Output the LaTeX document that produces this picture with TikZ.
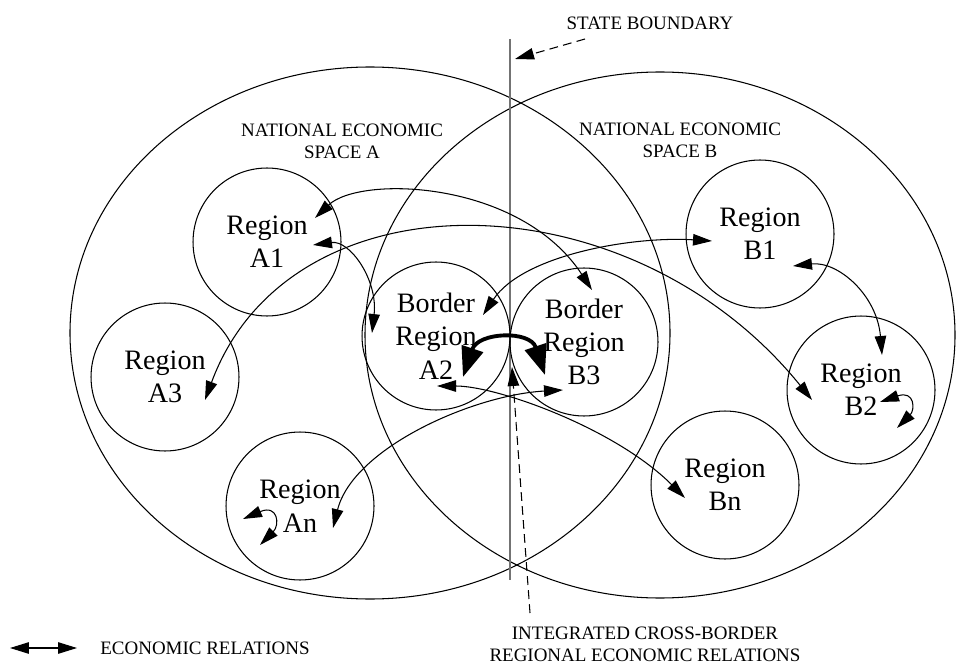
\documentclass[tikz,border=0pt]{standalone}
\usepackage{fontspec}
\setmainfont{Liberation Serif}
\usetikzlibrary{calc}
\usetikzlibrary{arrows.meta}
\tikzset{every node/.style={align=center},
  region/.style={ % one region of an economic space
    circle, draw, line width=0.6pt, inner sep=0pt,
    minimum size=2.96cm,
    font=\fontsize{16}{19}\selectfont},
  caption/.style={inner sep=0pt, font=\fontsize{10.8}{12.4}\selectfont},
  space/.style={draw, line width=0.6pt},
  relation/.style={ % economic relation between two regions
    line width=0.6pt,
    {Triangle[length=3.8mm,width=2.3mm]}-{Triangle[length=3.8mm,width=2.3mm]}},
  strong/.style={line width=2.2pt,
    {Triangle[length=6mm,width=4.4mm]}-{Triangle[length=6mm,width=4.4mm]}},
  pointer/.style={dashed, line width=0.6pt, dash pattern=on 5pt off 3pt,
    -{Triangle[length=3.8mm,width=2.3mm]}}}

\begin{document}
\begin{tikzpicture}[x=0.02cm, y=-0.02cm]
  \useasboundingbox (0,0) rectangle (959,665);

  % national economic spaces
  \draw[space] (370,333) ellipse [x radius=300, y radius=266];
  \draw[space] (660,335) ellipse [x radius=295, y radius=263];
  \node[caption] (spa) at (342,141) {NATIONAL ECONOMIC\\SPACE A};
  \node[caption] (spb) at (680,140) {NATIONAL ECONOMIC\\SPACE B};

  % state boundary
  \coordinate (sbtop) at (510,39);
  \coordinate (sbbot) at (510,580);
  \draw[black!55, line width=0.8pt] (sbtop) -- (sbbot);
  \node[caption] (stateb) at (650,23) {STATE BOUNDARY};
  \draw[pointer] ($(stateb)+(-65,16)$) -- ($(sbtop)+(5,20)$);

  % regions
  \node[region] (a1) at (267,242) {Region\\A1};
  \node[region] (a3) at (165,377) {Region\\A3};
  \node[region] (an) at (300,506) {Region\\An};
  \node[region] (a2) at (436,336) {Border\\Region\\A2};
  \node[region] (b3) at (584,342) {Border\\Region\\B3};
  \node[region] (b1) at (760,234) {Region\\B1};
  \node[region] (b2) at (861,390) {Region\\B2};
  \node[region] (bn) at (725,485) {Region\\Bn};

  % relations
  \draw[relation] ($(a1)+(48,-24)$) .. controls +(45,-43) and +(-72,-110) .. ($(b3)+(8,-52)$);
  \draw[relation] ($(a1)+(46,3)$) .. controls +(37,-5) and +(6,-53) .. ($(a2)+(-64,-3)$);
  \draw[relation] ($(a3)+(40,23)$) .. controls +(85,-230) and +(-182,-225) .. ($(b2)+(-49,10)$);
  \draw[relation] ($(a2)+(47,-21)$) .. controls +(40,-60) and +(-80,-5) .. ($(b1)+(-48,7)$);
  \draw[relation] ($(b1)+(33,32)$) .. controls +(45,-5) and +(-5,-60) .. ($(b2)+(21,-35)$);
  \draw[relation] ($(b2)+(19,12)$) .. controls +(35,-12) and +(18,-18) .. ($(b2)+(36,38)$);
  \draw[relation] ($(an)+(-57,13)$) .. controls +(35,-15) and +(20,-20) .. ($(an)+(-40,39)$);
  \draw[relation] ($(an)+(33,22)$) .. controls +(20,-80) and +(-90,5) .. ($(b3)+(-21,48)$);
  \draw[relation] ($(a2)+(1,50)$) .. controls +(60,0) and +(-70,-70) .. ($(bn)+(-40,13)$);

  % integrated cross-border relation
  \draw[strong] ($(a2)+(27,41)$) .. controls +(15,-45) and +(-15,-45) .. ($(b3)+(-39,33)$);
  \coordinate (joint) at (512,367);
  \node[caption] (cbr) at (645,644) {INTEGRATED CROSS-BORDER\\REGIONAL ECONOMIC RELATIONS};
  \draw[pointer] ($(cbr)+(-115,-31)$) -- (joint);

  % legend
  \node[caption, anchor=west] (legtxt) at (100,648) {ECONOMIC RELATIONS};
  \draw[relation] ($(legtxt.west)+(-90,0)$) -- ($(legtxt.west)+(-23,0)$);
\end{tikzpicture}
\end{document}
